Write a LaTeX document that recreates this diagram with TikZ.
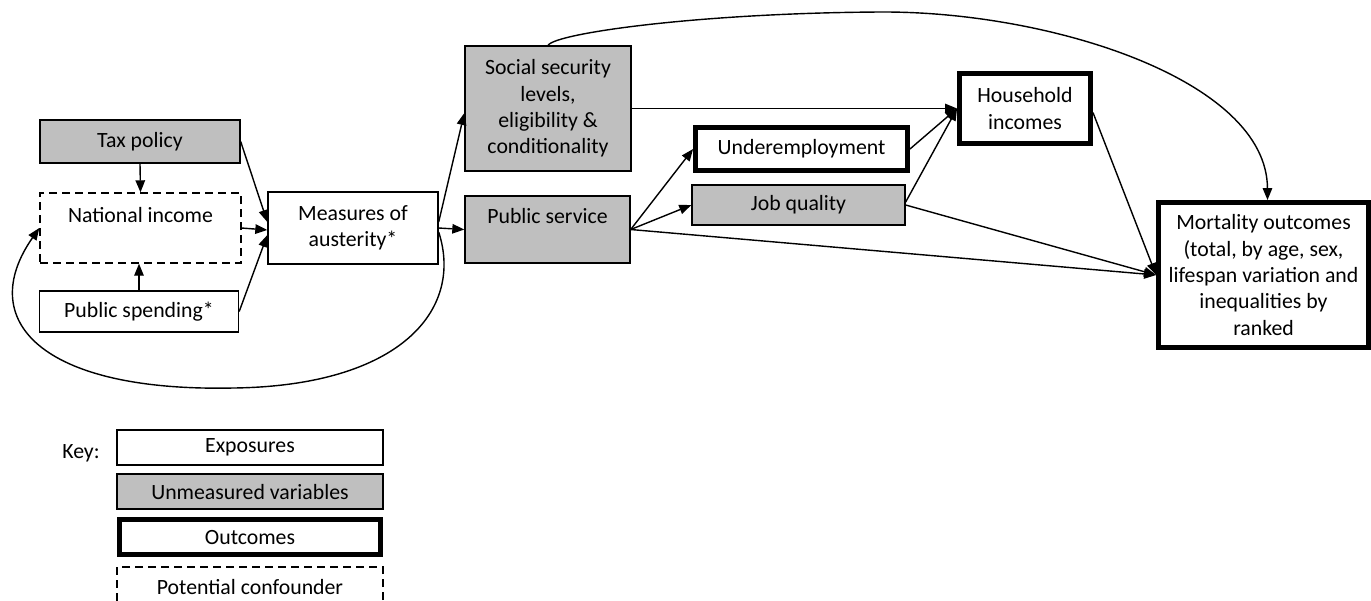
\documentclass[tikz,border=0pt]{standalone}
\usepackage{fontspec}
\setmainfont{Carlito}
\usetikzlibrary{arrows.meta}
\tikzset{
  box/.style={draw, line width=0.8pt, align=center, inner sep=0pt, font=\fontsize{12.4pt}{15pt}\selectfont},
  exposure/.style={box},
  unmeasured/.style={box, fill=black!25},
  outcome/.style={box, line width=2.8pt},
  confounder/.style={box, dash pattern=on 0.16cm off 0.1cm},
  arr/.style={-{Triangle[length=2.4mm,width=1.9mm]}, line width=0.8pt},
  link/.style={line width=0.8pt}
}
\begin{document}
\begin{tikzpicture}[x=0.02cm, y=-0.02cm]
\useasboundingbox (0,0) rectangle (1371,600);
\node[unmeasured, minimum width=4cm, minimum height=0.86cm] (tax) at (140,141.5) {Tax policy};
\node[confounder, minimum width=4.02cm, minimum height=1.4cm] (natinc) at (140.5,228) {National income\\\mbox{}};
\node[exposure, minimum width=3.98cm, minimum height=0.82cm] (pubspend) at (139,311.5) {Public spending*};
\node[exposure, minimum width=3.4cm, minimum height=1.44cm] (austerity) at (353,228) {Measures of\\austerity*};
\node[unmeasured, minimum width=3.32cm, minimum height=2.5cm] (socsec) at (548,108.5) {Social security\\levels,\\eligibility \&\\conditionality};
\node[unmeasured, minimum width=3.3cm, minimum height=1.34cm] (pubserv) at (547.5,229.5) {Public service\\\mbox{}};
\node[outcome, minimum width=4.24cm, minimum height=0.86cm] (underemp) at (801.5,149) {Underemployment};
\node[unmeasured, minimum width=4.26cm, minimum height=0.8cm] (jobq) at (798.5,205) {Job quality};
\node[outcome, minimum width=2.62cm, minimum height=1.4cm] (household) at (1025,108.5) {Household\\incomes};
\node[outcome, minimum width=4.2cm, minimum height=2.9cm] (mortality) at (1263.5,275) {Mortality outcomes\\(total, by age, sex,\\lifespan variation and\\inequalities by\\ranked};

\node[font=\fontsize{12.4pt}{15pt}\selectfont] (key) at (81,453) {Key:};
\node[exposure, minimum width=5.32cm, minimum height=0.7cm] (keyexp) at (250,447.5) {Exposures};
\node[unmeasured, minimum width=5.32cm, minimum height=0.7cm] (keyunm) at (250,491.5) {Unmeasured variables};
\node[outcome, minimum width=5.22cm, minimum height=0.7cm] (keyout) at (250,537) {Outcomes};
\node[confounder, minimum width=5.32cm, minimum height=0.8cm] (keyconf) at (250,587) {Potential confounder};

\coordinate (loopbottom) at (233,388);
\coordinate (arctop) at (880,12);

\draw[arr] (tax.south) -- (natinc.north);
\draw[arr] (pubspend.north) -- (pubspend.north |- natinc.south);
\draw[arr] (tax.east) -- ([yshift=0.12cm]austerity.west);
\draw[arr] (natinc.east) -- ([yshift=-0.04cm]austerity.west);
\draw[arr] (pubspend.east) -- ([yshift=-0.14cm]austerity.west);
\draw[arr] (austerity.east) -- (pubserv.west);
\draw[arr] ([yshift=0.12cm]austerity.east) -- ([yshift=-0.09cm]socsec.west);
\draw[arr] ([yshift=-0.08cm]austerity.east) .. controls (464,310) and (400,386) .. (loopbottom)
  .. controls (40,392) and (-25,320) .. (natinc.west);
\draw[arr] (pubserv.east) -- (underemp.west);
\draw[arr] (pubserv.east) -- (jobq.west);
\draw[arr] (pubserv.east) -- (mortality.west);
\draw[arr] (socsec.east) -- (household.west);
\draw[arr] (underemp.east) -- (household.west);
\draw[arr] ([yshift=0.06cm]jobq.east) -- (household.west);
\draw[arr] (jobq.east) -- (mortality.west);
\draw[arr] ([yshift=-0.08cm]household.east) -- (mortality.west);
\draw[arr] (socsec.north) .. controls (556,33) and (700,13) .. (arctop)
  .. controls (1050,11) and (1267,80) .. ([xshift=0.08cm]mortality.north);
\end{tikzpicture}
\end{document}
